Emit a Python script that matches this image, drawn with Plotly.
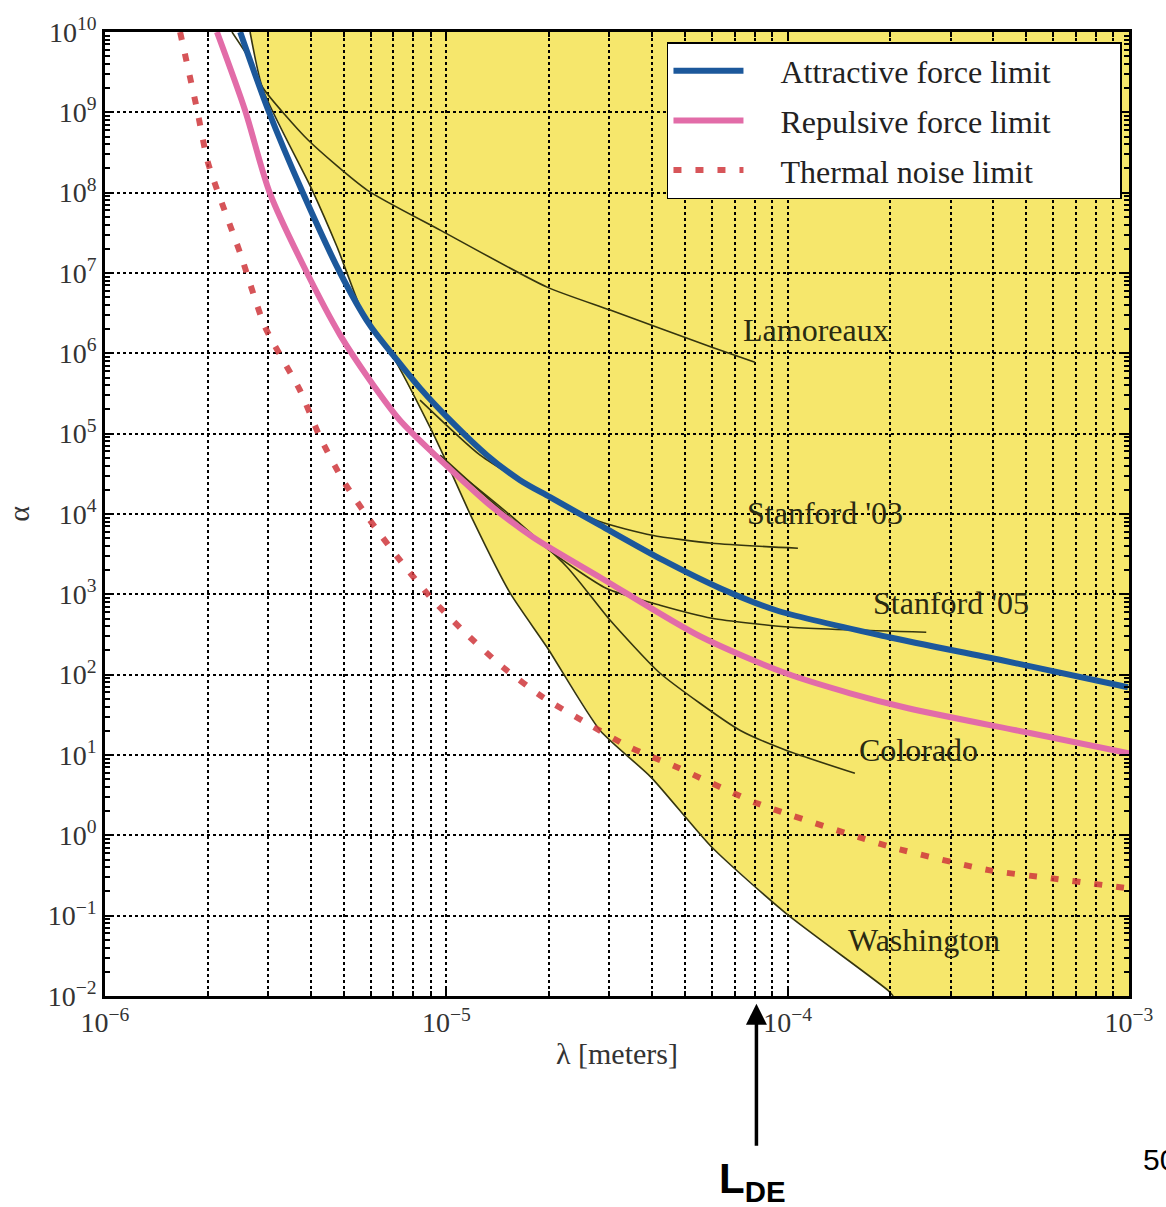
import numpy as np
import plotly.graph_objects as go

# ---- data (log10 of lambda [m], log10 of alpha) ----
attr_lx = [-5.604, -5.522, -5.420, -5.311, -5.224, -5.144, -5.077, -4.989, -4.881, -4.784,
           -4.696, -4.550, -4.365, -4.198, -4.034, -3.703, -3.372, -3.003]
attr_ly = [10.0, 9.029, 7.995, 7.0, 6.351, 5.915, 5.567, 5.168, 4.732, 4.421,
           4.209, 3.861, 3.425, 3.076, 2.802, 2.466, 2.179, 1.843]

rep_lx = [-5.672, -5.590, -5.517, -5.408, -5.311, -5.224, -5.136, -5.048, -4.960, -4.872,
          -4.746, -4.550, -4.257, -4.005, -3.817, -3.647, -3.287, -3.0]
rep_ly = [10.0, 9.029, 7.995, 7.0, 6.227, 5.666, 5.168, 4.795, 4.446, 4.110,
          3.711, 3.213, 2.478, 2.017, 1.768, 1.582, 1.270, 1.021]

therm_lx = [-5.780, -5.730, -5.698, -5.604, -5.531, -5.429, -5.370, -5.303, -5.224, -5.136,
            -5.039, -4.931, -4.834, -4.717, -4.588, -4.462, -4.324, -4.090, -3.694, -3.407,
            -3.228, -3.0]
therm_ly = [10.0, 9.029, 8.369, 7.248, 6.326, 5.542, 4.956, 4.421, 3.923, 3.425,
            2.927, 2.466, 2.092, 1.719, 1.395, 1.096, 0.847, 0.399, -0.149, -0.436,
            -0.535, -0.66]

lamo_lx = [-5.628, -5.575, -5.537, -5.405, -5.232, -5.018, -4.705, -4.520, -4.222, -4.096]
lamo_ly = [10.0, 9.651, 9.303, 8.655, 8.032, 7.534, 6.824, 6.538, 6.077, 5.890]

wash_lx = [-5.575, -5.537, -5.393, -5.320, -5.232, -5.156, -5.048, -4.998, -4.922, -4.813,
           -4.705, -4.550, -4.400, -4.222, -4.005, -3.706, -3.691]
wash_ly = [10.0, 9.278, 8.032, 7.323, 6.376, 5.953, 5.081, 4.633, 3.923, 3.014,
           2.341, 1.308, 0.722, -0.149, -0.971, -1.930, -2.0]

st03_lx = [-5.077, -4.901, -4.725, -4.553, -4.397, -4.222, -3.970]
st03_ly = [5.417, 4.732, 4.272, 3.910, 3.736, 3.636, 3.574]

st05_lx = [-5.018, -4.872, -4.687, -4.532, -4.374, -4.222, -3.990, -3.594]
st05_ly = [4.732, 4.172, 3.512, 3.076, 2.864, 2.702, 2.590, 2.528]

colo_lx = [-5.004, -4.813, -4.646, -4.520, -4.377, -4.257, -4.140, -4.005, -3.803]
colo_ly = [4.645, 3.985, 3.338, 2.677, 2.030, 1.644, 1.308, 1.059, 0.772]

# experiment labels (log10 lambda, log10 alpha)
exp_names = ["Lamoreaux", "Stanford '03", "Stanford '05", "Colorado", "Washington"]
exp_lab_lx = [-3.917, -3.890, -3.521, -3.618, -3.600]
exp_lab_ly = [6.289, 4.010, 2.889, 1.059, -1.308]

series_names = ["Attractive force limit", "Repulsive force limit", "Thermal noise limit"]
x_tick_exp = [-6, -5, -4, -3]
y_tick_exp = list(range(-2, 11))
L_DE = 8.1e-5  # meters

def p10(a):
    return [10.0 ** v for v in a]

def fmt(v):
    return np.format_float_positional(v, trim='-')

SERIF = "Liberation Serif, Times New Roman, serif"
SANS = "Liberation Sans, Arial, sans-serif"
THIN = "#35350f"
NB = "\u00a0"

def leg(name):
    return NB * 4 + name + NB * 8

fig = go.Figure()

# excluded (yellow) region: right of the Washington envelope
wx = p10(wash_lx) + [1e-3, 1e-3]
wy = p10(wash_ly) + [1e-2, 1e10]
path = "M " + " L ".join(f"{fmt(a)},{fmt(b)}" for a, b in zip(wx, wy)) + " Z"
fig.add_shape(type="path", path=path, xref="x", yref="y", layer="below",
              fillcolor="#f6e76c", line=dict(width=0))

# experiment thin curves
for lx, ly in [(lamo_lx, lamo_ly), (wash_lx, wash_ly), (st03_lx, st03_ly),
               (st05_lx, st05_ly), (colo_lx, colo_ly)]:
    fig.add_trace(go.Scatter(x=p10(lx), y=p10(ly), mode="lines", showlegend=False,
                             line=dict(color=THIN, width=1.6, shape="spline", smoothing=0.6),
                             hoverinfo="skip"))

fig.add_trace(go.Scatter(x=p10(therm_lx), y=p10(therm_ly), mode="lines",
                         name=leg(series_names[2]), legendgroup="c", legendrank=3,
                         opacity=0.85,
                         line=dict(color="rgb(208,55,60)", width=6, dash="8px,14px",
                                   shape="spline", smoothing=0.6)))
fig.add_trace(go.Scatter(x=p10(rep_lx), y=p10(rep_ly), mode="lines",
                         name=leg(series_names[1]), legendgroup="b", legendrank=2,
                         line=dict(color="rgb(226,108,168)", width=6, shape="spline", smoothing=0.8)))
fig.add_trace(go.Scatter(x=p10(attr_lx), y=p10(attr_ly), mode="lines",
                         name=leg(series_names[0]), legendgroup="a", legendrank=1,
                         line=dict(color="rgb(28,88,155)", width=6, shape="spline", smoothing=0.8)))

for name, lx, ly in zip(exp_names, exp_lab_lx, exp_lab_ly):
    fig.add_annotation(x=lx, y=ly, xref="x", yref="y", text=name, showarrow=False,
                       font=dict(family=SERIF, size=32, color="#2a2a12"))

def sup(n):
    s = str(n).replace("-", "\u2212")
    return f"10<sup>{s}</sup>"

axis_common = dict(type="log", showline=True, linecolor="black", linewidth=2.5,
                   mirror="ticks", ticks="inside", ticklen=9, tickwidth=1.5, tickcolor="black",
                   tickfont=dict(family=SERIF, size=28, color="#333333"),
                   gridcolor="black", gridwidth=1.5, griddash="dot", showgrid=True,
                   zeroline=False)

fig.update_xaxes(range=[-6, -3], tickvals=p10(x_tick_exp), ticktext=[sup(e) for e in x_tick_exp],
                 minor=dict(dtick="D1", showgrid=True, gridcolor="black", gridwidth=1.5,
                            griddash="dot", ticks="inside", ticklen=5, tickcolor="black"),
                 title=dict(text="\u03bb [meters]", font=dict(family=SERIF, size=30, color="#333"),
                            standoff=6),
                 **axis_common)
fig.update_yaxes(range=[-2, 10], tickvals=p10(y_tick_exp), ticktext=[sup(e) for e in y_tick_exp],
                 minor=dict(dtick="D1", showgrid=False, ticks="inside", ticklen=5, tickcolor="black"),
                 title=dict(text="\u03b1", font=dict(family=SERIF, size=30, color="#333"),
                            standoff=10),
                 **axis_common)

# L_DE arrow
fig.add_annotation(x=np.log10(L_DE), y=-0.008, xref="x", yref="paper", text="",
                   showarrow=True, arrowhead=2, arrowsize=1.2, arrowwidth=3.5, arrowcolor="black",
                   ax=0, ay=142, axref="pixel", ayref="pixel", yanchor="top")
fig.add_annotation(x=np.log10(L_DE) - 0.012, y=-0.192, xref="x", yref="paper",
                   text="<b>L<sub>DE</sub></b>", showarrow=False, xanchor="center", yanchor="middle",
                   font=dict(family=SANS, size=42, color="black"))
fig.add_annotation(x=1.0118, y=-0.17, xref="paper", yref="paper", text="50", showarrow=False,
                   xanchor="left", yanchor="middle", font=dict(family=SANS, size=30, color="black"))

fig.update_layout(
    width=1166, height=1207,
    margin=dict(l=105, r=37, t=32, b=211),
    paper_bgcolor="white", plot_bgcolor="white",
    showlegend=True,
    legend=dict(x=0.5488, y=0.9896, xanchor="left", yanchor="top",
                bgcolor="white", bordercolor="black", borderwidth=1.5,
                font=dict(family=SERIF, size=32, color="#222"),
                tracegroupgap=5, itemwidth=70, traceorder="grouped"),
)

fig.write_html("out.html", config={"displayModeBar": False},
               post_script="document.body.style.margin='0';document.body.style.overflow='hidden';")
